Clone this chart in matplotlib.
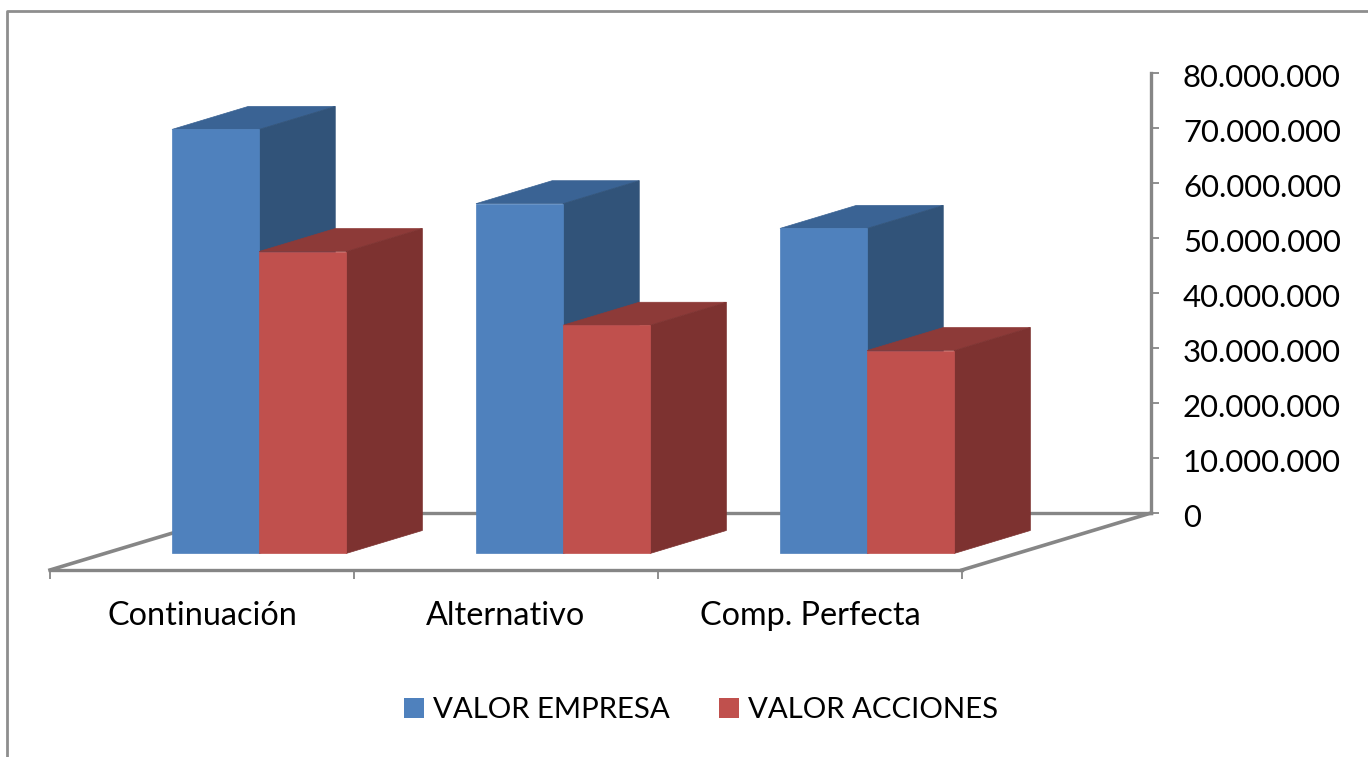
#!python3
import matplotlib
matplotlib.use('Agg')
import matplotlib.pyplot as plt
from matplotlib.lines import Line2D
from matplotlib.patches import Patch, Polygon
from matplotlib.ticker import FuncFormatter
from matplotlib.transforms import Affine2D, IdentityTransform

plt.rcParams['font.family'] = ['Lato', 'DejaVu Sans']

categories = ['Continuación', 'Alternativo', 'Comp. Perfecta']
valor_empresa = [77100000, 63600000, 59100000]
valor_acciones = [54900000, 41500000, 36900000]
value_ticks = [0, 10000000, 20000000, 30000000, 40000000, 50000000, 60000000, 70000000, 80000000]

W, H = 1368, 757
GREY = '#868686'

# oblique 3D look: floor depth in pixels, bars sit between two depths
DEPTH_X, DEPTH_Y = 189, 57
BAR_FRONT, BAR_BACK = 0.29, 0.693
BAR_LEFT, BAR_W = 0.221, 0.2865

BLUE = ('#4F81BD', '#315379', '#3A6394')
RED = ('#C0504D', '#7D3230', '#8D3A38')


def rect(left, bottom, right, top):
    return [left / W, 1 - bottom / H, (right - left) / W, (bottom - top) / H]


fig = plt.figure(figsize=(W / 100, H / 100), dpi=100, facecolor='white')

# chart border, runs off the top right of the canvas
fig.add_artist(Line2D([6.5 / W, 6.5 / W, 1], [0, 1 - 10.5 / H, 1 - 10.5 / H], color='#8E8E8E', lw=2))

# back wall carries the value axis
wall = fig.add_axes(rect(50 + DEPTH_X, 513, 962 + DEPTH_X, 73), zorder=0)
wall.patch.set_visible(False)
wall.set_xlim(0, 3)
wall.set_ylim(0, 80000000)
wall.set_xticks([])
wall.set_yticks(value_ticks)
wall.yaxis.tick_right()
wall.yaxis.set_major_formatter(FuncFormatter(lambda v, pos: f'{int(v):,}'.replace(',', '.')))
wall.tick_params(axis='y', length=6, width=1.3, color=GREY, pad=17, labelsize=22.4, labelcolor='black')
for side in ['top', 'left']:
    wall.spines[side].set_visible(False)
for side in ['right', 'bottom']:
    wall.spines[side].set_color(GREY)
    wall.spines[side].set_linewidth(2.4)
# value labels sit a little under their ticks
for label in wall.get_yticklabels():
    label.set_transform(label.get_transform() + Affine2D().translate(0, -2.5))

# front plane carries the categories and the bars
ax = fig.add_axes(rect(50, 570, 962, 130), zorder=1)
ax.patch.set_visible(False)
ax.set_xlim(0, 3)
ax.set_ylim(0, 80000000)
ax.set_yticks([])
ax.set_xticks([0, 1, 2, 3])
ax.set_xticklabels([])
ax.set_xticks([i + 0.5 for i in range(len(categories))], categories, minor=True)
ax.tick_params(axis='x', which='major', length=6.5, width=1.3, color=GREY)
ax.tick_params(axis='x', which='minor', length=0, pad=22, labelsize=23.3, labelcolor='black')
for side in ['top', 'left', 'right']:
    ax.spines[side].set_visible(False)
ax.spines['bottom'].set_color(GREY)
ax.spines['bottom'].set_linewidth(2.4)


def pt(x, v, d):
    px, py = ax.transData.transform((x, v))
    return (px + d * DEPTH_X, py + d * DEPTH_Y)


def face(points, color, z):
    ax.add_patch(Polygon(points, closed=True, facecolor=color, edgecolor=color, lw=0.5,
                         transform=IdentityTransform(), clip_on=False, zorder=z))


def bar3d(x, value, colors, z):
    front, side, top = colors
    x2 = x + BAR_W
    face([pt(x, value, BAR_FRONT), pt(x, value, BAR_BACK), pt(x2, value, BAR_BACK), pt(x2, value, BAR_FRONT)], top, z)
    face([pt(x2, 0, BAR_FRONT), pt(x2, 0, BAR_BACK), pt(x2, value, BAR_BACK), pt(x2, value, BAR_FRONT)], side, z)
    face([pt(x, 0, BAR_FRONT), pt(x2, 0, BAR_FRONT), pt(x2, value, BAR_FRONT), pt(x, value, BAR_FRONT)], front, z)


# floor side edges, behind the bars
for x in [0, 3]:
    a, b = pt(x, 0, 0), pt(x, 0, 1)
    ax.add_line(Line2D([a[0], b[0]], [a[1], b[1]], color=GREY, lw=2.6,
                       transform=IdentityTransform(), clip_on=False, zorder=1))

for i in range(len(categories)):
    bar3d(i + BAR_LEFT, valor_empresa[i], BLUE, 3)
    bar3d(i + BAR_LEFT + BAR_W, valor_acciones[i], RED, 4)

handles = [Patch(facecolor=BLUE[0], label='VALOR EMPRESA'), Patch(facecolor=RED[0], label='VALOR ACCIONES')]
fig.legend(handles=handles, loc='center', bbox_to_anchor=(701 / W, 1 - 710 / H), ncol=2, frameon=False,
           fontsize=21.2, handlelength=0.68, handleheight=0.68, handletextpad=0.3, columnspacing=1.7)

fig.savefig('out.png', dpi=100)
